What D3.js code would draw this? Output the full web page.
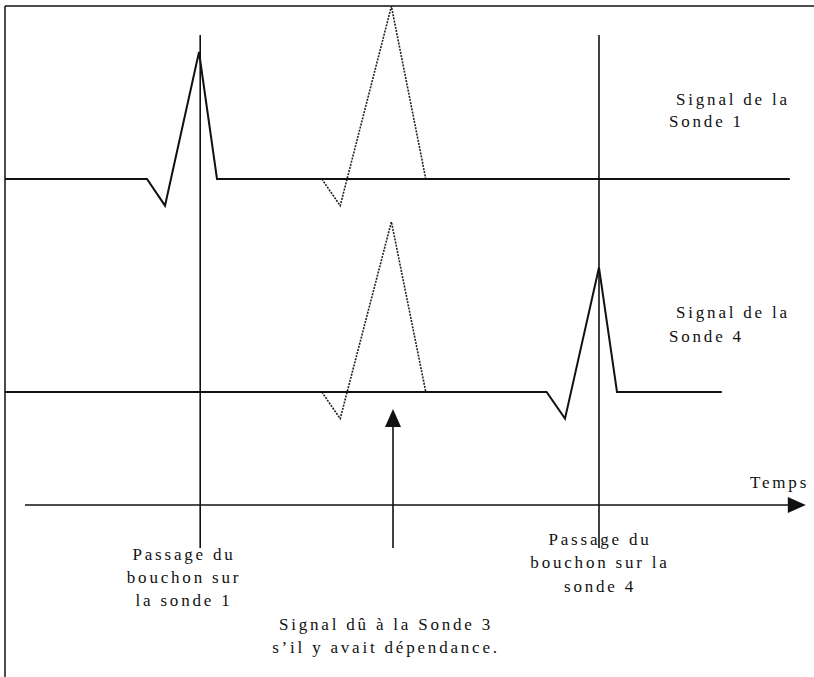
<!DOCTYPE html>
<html lang="fr">
<head>
<meta charset="UTF-8">
<title>Signaux des sondes 1 et 4</title>
<style>
  body { margin: 0; background: #fff; }
  svg text {
    font-family: "Liberation Serif", "Times New Roman", serif;
    font-size: 17px;
    letter-spacing: 2.8px;
    fill: #111;
  }
</style>
</head>
<body>
<div id="chart"></div>
<script src="https://d3js.org/d3.v7.min.js"></script>
<script>
// traces: time (arbitrary units) and amplitude (1 = main peak)
const sonde1Time = [0, 17.75, 20, 24.25, 26.5, 98.1];
const sonde1Amp  = [0, 0, -0.21, 1.0, 0, 0];
const sonde4Time = [0, 67.7, 70, 74.25, 76.5, 89.6];
const sonde4Amp  = [0, 0, -0.21, 0.98, 0, 0];

// hypothetical signal from sonde 3 (dotted)
const depTime  = [39.6, 41.9, 48.3, 52.6];
const dep1Amp  = [0, -0.21, 1.36, 0];
const dep4Amp  = [0, -0.21, 1.34, 0];

const passageTimes = [24.4, 74.25];
const dependanceTime = 48.5;
const axisTimes = [2.5, 100.1];

const width = 814, height = 677;

const svg = d3.select("#chart").append("svg")
  .attr("width", width)
  .attr("height", height);

const x = d3.scaleLinear().domain([0, 100]).range([5, 805]);
const y1 = d3.scaleLinear().domain([0, 1]).range([179, 52]);
const y4 = d3.scaleLinear().domain([0, 1]).range([392, 265]);

const toPts = (ts, as) => ts.map((t, i) => [t, as[i]]);

// frame (top and left border of the scanned figure)
svg.append("line").attr("x1", 5).attr("x2", width).attr("y1", 6).attr("y2", 6)
  .attr("stroke", "#111").attr("stroke-width", 1.5);
svg.append("line").attr("x1", 5).attr("x2", 5).attr("y1", 6).attr("y2", height)
  .attr("stroke", "#111").attr("stroke-width", 1.5);

// dotted "dependence" signals
[[dep1Amp, y1], [dep4Amp, y4]].forEach(([amp, ys]) => {
  svg.append("path")
    .datum(toPts(depTime, amp))
    .attr("d", d3.line().x(d => x(d[0])).y(d => ys(d[1])))
    .attr("fill", "none")
    .attr("stroke", "#222")
    .attr("stroke-width", 1.6)
    .attr("stroke-dasharray", "2,1.2");
});

// solid signals
[[sonde1Time, sonde1Amp, y1], [sonde4Time, sonde4Amp, y4]].forEach(([ts, amp, ys]) => {
  svg.append("path")
    .datum(toPts(ts, amp))
    .attr("d", d3.line().x(d => x(d[0])).y(d => ys(d[1])))
    .attr("fill", "none")
    .attr("stroke", "#111")
    .attr("stroke-width", 2)
    .attr("stroke-linejoin", "miter");
});

// vertical passage lines
svg.selectAll(".passage")
  .data(passageTimes)
  .join("line")
  .attr("class", "passage")
  .attr("x1", d => x(d)).attr("x2", d => x(d))
  .attr("y1", 35).attr("y2", 548)
  .attr("stroke", "#111")
  .attr("stroke-width", 1.6);

// time axis with arrow
const axisY = 505;
svg.append("line")
  .attr("x1", x(axisTimes[0])).attr("x2", x(axisTimes[1]) - 16)
  .attr("y1", axisY).attr("y2", axisY)
  .attr("stroke", "#111").attr("stroke-width", 1.6);
const tip = x(axisTimes[1]);
svg.append("path")
  .attr("d", `M${tip},${axisY} L${tip - 18},${axisY - 8} L${tip - 18},${axisY + 8} Z`)
  .attr("fill", "#111");
svg.append("text").attr("x", 750).attr("y", 488).text("Temps");

// arrow pointing to the dotted signal
const ax = x(dependanceTime);
svg.append("line")
  .attr("x1", ax).attr("x2", ax).attr("y1", 548).attr("y2", 424)
  .attr("stroke", "#111").attr("stroke-width", 1.6);
svg.append("path")
  .attr("d", `M${ax},${409} L${ax - 8},${427} L${ax + 8},${427} Z`)
  .attr("fill", "#111");

// labels
const labels = [
  { lines: ["Signal de la", "Sonde 1"], xs: [676, 669], ys: [105, 127], anchor: "start" },
  { lines: ["Signal de la", "Sonde 4"], xs: [676, 669], ys: [318, 342], anchor: "start" },
  { lines: ["Passage du", "bouchon sur", "la sonde 1"], xs: [184, 184, 184], ys: [560, 583, 606], anchor: "middle" },
  { lines: ["Passage du", "bouchon sur la", "sonde 4"], xs: [600, 600, 600], ys: [545, 568, 592], anchor: "middle" },
  { lines: ["Signal dû à la Sonde 3", "s\u2019il y avait dépendance."], xs: [386, 386], ys: [630, 653], anchor: "middle" }
];
labels.forEach(l => {
  l.lines.forEach((t, i) => {
    svg.append("text")
      .attr("x", l.xs[i])
      .attr("y", l.ys[i])
      .attr("text-anchor", l.anchor)
      .text(t);
  });
});
</script>
</body>
</html>
